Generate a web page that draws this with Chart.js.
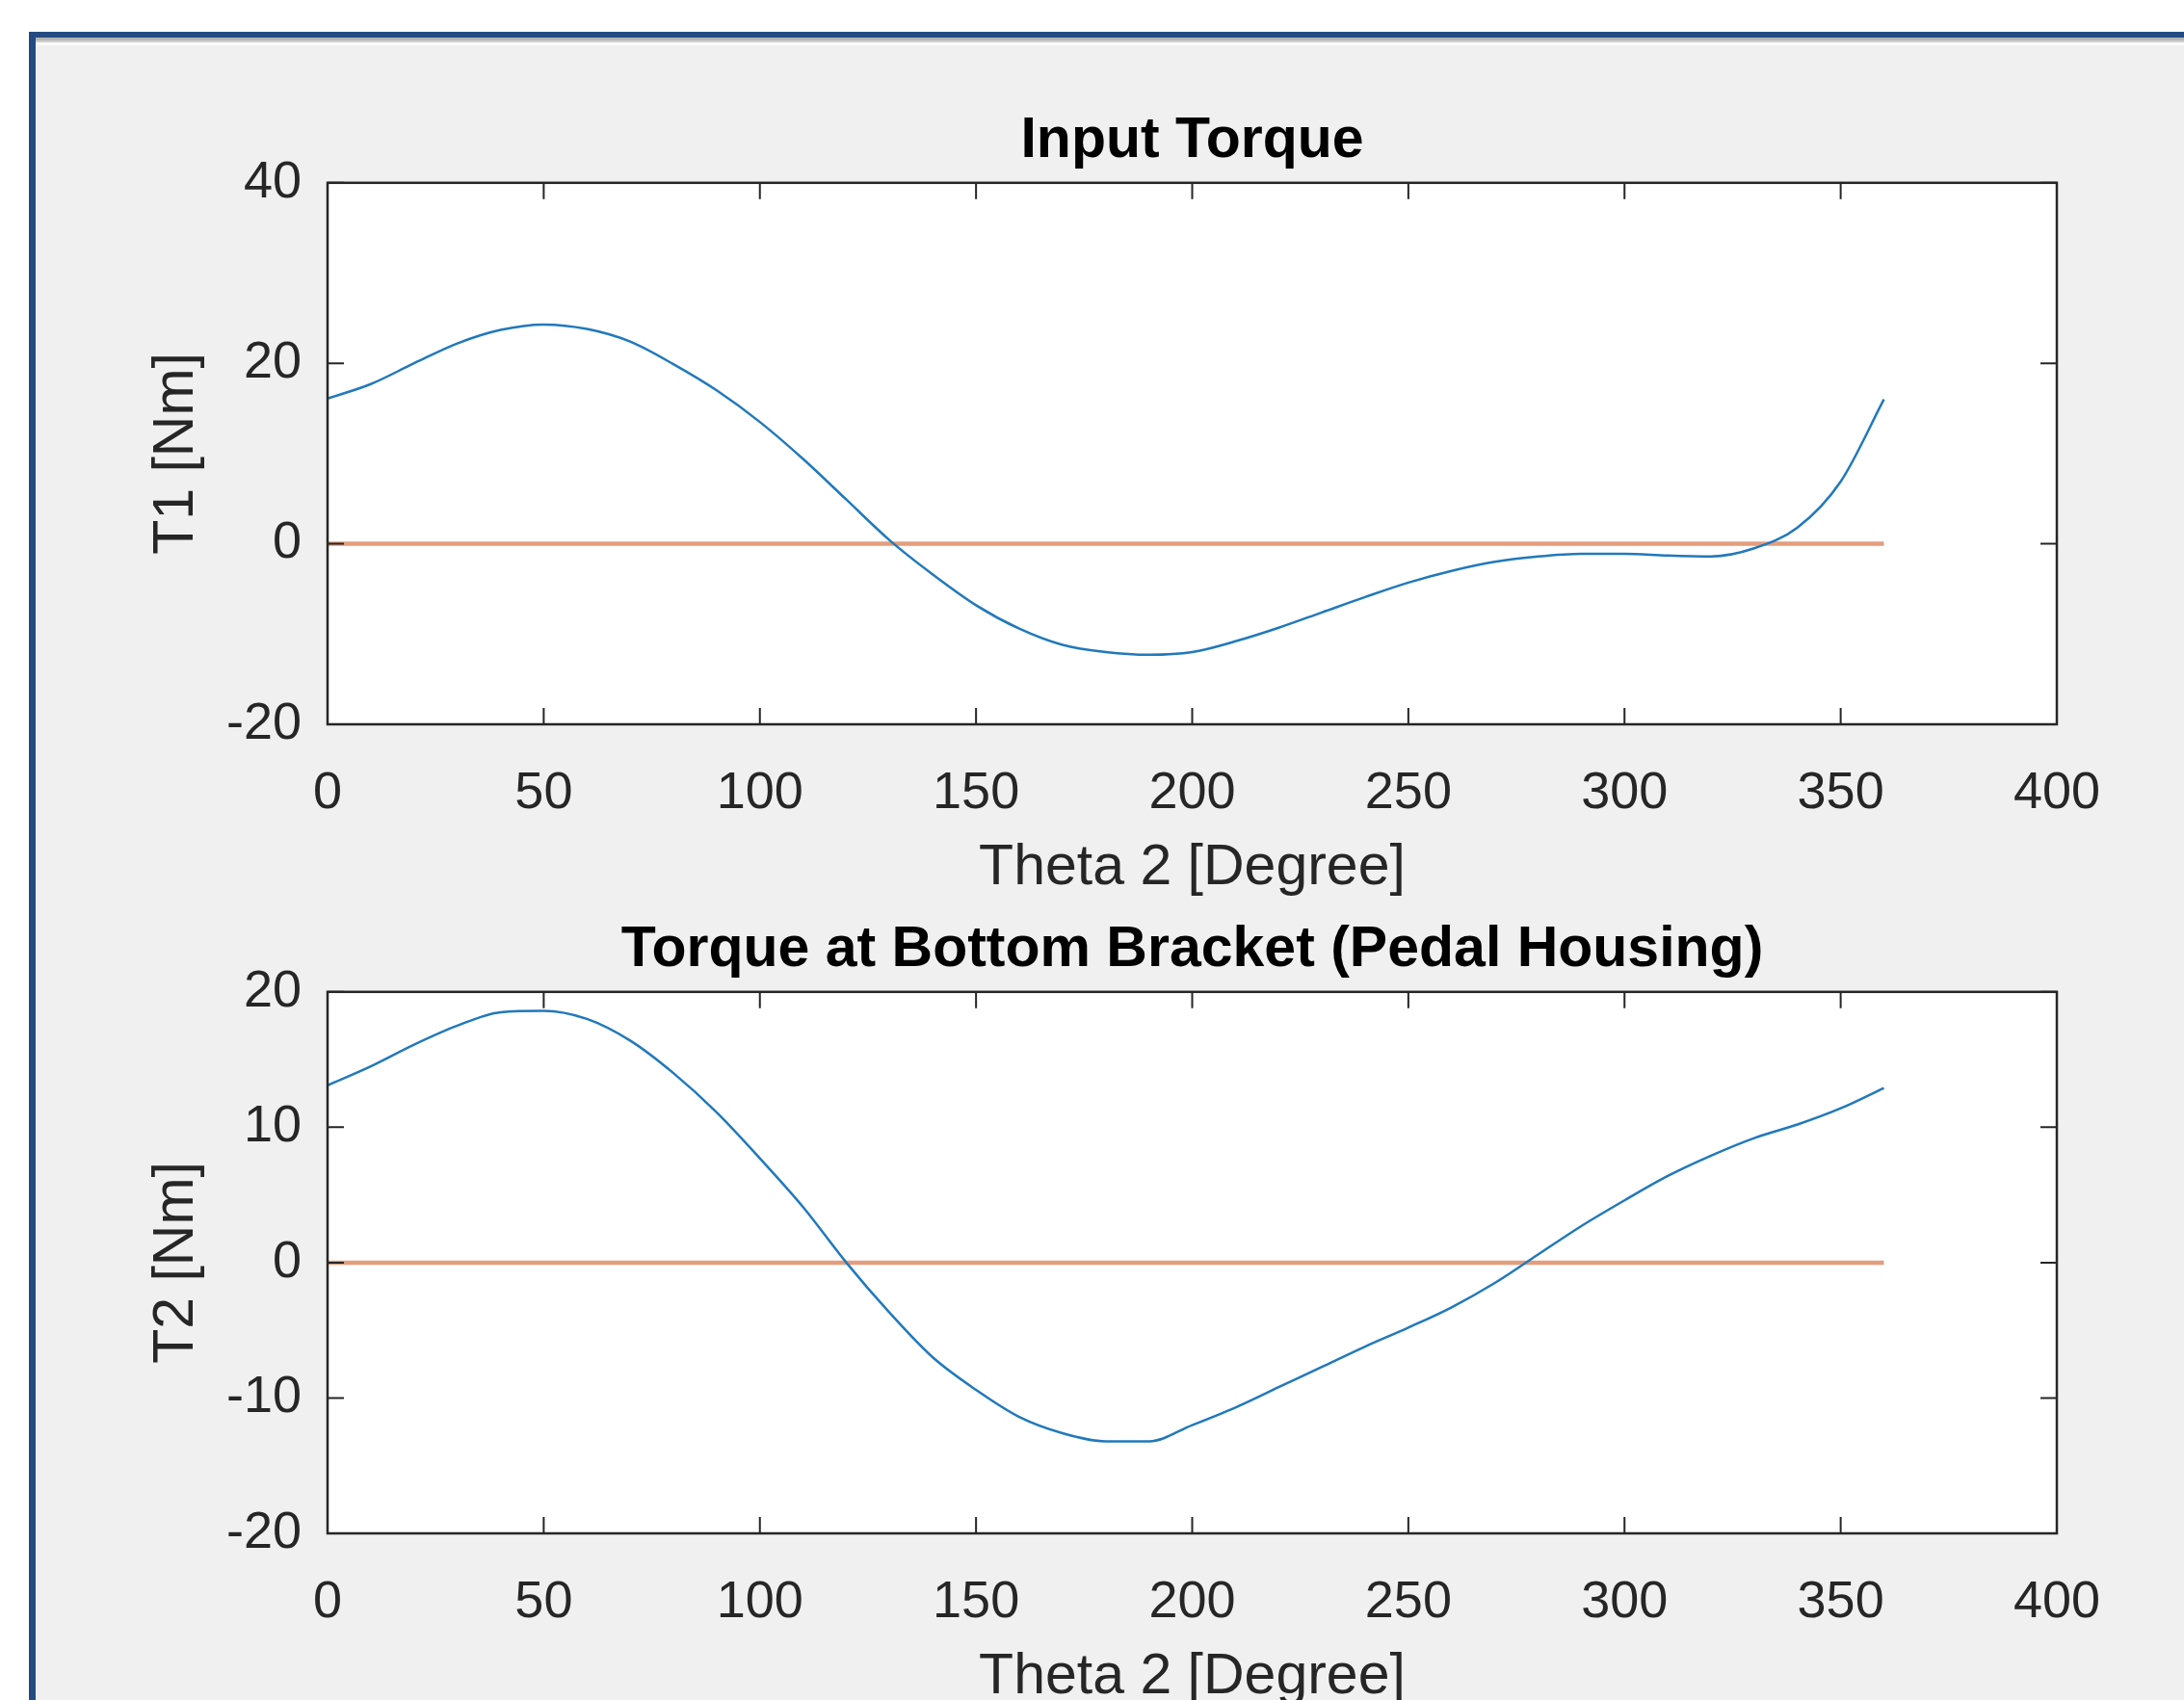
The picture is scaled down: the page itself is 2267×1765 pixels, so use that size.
<!DOCTYPE html>
<html><head><meta charset="utf-8">
<script src="https://cdn.jsdelivr.net/npm/chart.js@4.4.0/dist/chart.umd.min.js"></script>
<style>
html,body{margin:0;padding:0;width:2267px;height:1765px;overflow:hidden;background:#ffffff;}
#frame{position:absolute;left:30px;top:33px;width:2237px;height:1732px;box-sizing:border-box;border-top:6px solid #234b82;border-left:7px solid #234b82;background:#f0f0f0;}
#frame .sh{position:absolute;left:0;top:0;right:0;height:8px;background:linear-gradient(#b5b5b5 0px,#b5b5b5 3px,#cfcfcf 3px,#cfcfcf 5px,#fbfbfb 5px,#fbfbfb 8px);}
.cw{position:absolute;left:0;width:2267px;height:938px;}
</style></head><body>
<div id="frame"><div class="sh"></div></div>
<div class="cw" style="top:0px"><canvas id="c1" width="2267" height="938"></canvas></div>
<div class="cw" style="top:840px"><canvas id="c2" width="2267" height="938"></canvas></div>
<script>
const theta2 = [0,10,20,30,40,50,60,70,80,90,100,110,120,130,140,150,160,170,180,190,200,210,220,230,240,250,260,270,280,290,300,310,320,330,340,350,360];
const torqueT1 = [16.1,17.7,20.0,22.2,23.7,24.3,23.8,22.4,19.9,17.0,13.5,9.4,4.9,0.4,-3.4,-6.8,-9.4,-11.2,-12.0,-12.3,-12.0,-10.8,-9.3,-7.6,-5.9,-4.3,-3.0,-2.0,-1.4,-1.1,-1.1,-1.3,-1.4,-0.5,1.8,6.9,16.0];
const torqueT2 = [13.1,14.5,16.1,17.5,18.5,18.6,18.0,16.4,14.0,11.1,7.7,4.1,0.0,-3.7,-7.0,-9.4,-11.4,-12.6,-13.2,-13.2,-12.0,-10.7,-9.2,-7.7,-6.2,-4.8,-3.3,-1.5,0.6,2.7,4.6,6.4,7.9,9.2,10.2,11.4,12.9];
const zeroLine = [0,0,0,0,0,0,0,0,0,0,0,0,0,0,0,0,0,0,0,0,0,0,0,0,0,0,0,0,0,0,0,0,0,0,0,0,0];
const xTicks = {min:0, max:400, step:50};
const yTicksT1 = {min:-20, max:40, step:20};
const yTicksT2 = {min:-20, max:20, step:10};
const titles = ['Input Torque', 'Torque at Bottom Bracket (Pedal Housing)'];
const yLabels = ['T1 [Nm]', 'T2 [Nm]'];
const xLabel = 'Theta 2 [Degree]';

const F = '"Liberation Sans", Arial, Helvetica, sans-serif';
const AX = '#262626';

const boxPlugin = {
  id: 'matlabBox',
  beforeDraw(chart) {
    const {ctx, chartArea: a} = chart;
    ctx.save();
    ctx.fillStyle = '#ffffff';
    ctx.fillRect(a.left, a.top, a.right - a.left, a.bottom - a.top);
    ctx.restore();
  },
  afterDatasetsDraw(chart) {
    const {ctx, chartArea: a, scales: {x, y}} = chart;
    const L = 17;
    ctx.save();
    ctx.strokeStyle = AX;
    ctx.lineWidth = 2;
    ctx.beginPath();
    x.ticks.forEach(t => {
      const px = x.getPixelForValue(t.value);
      ctx.moveTo(px, a.bottom); ctx.lineTo(px, a.bottom - L);
      ctx.moveTo(px, a.top); ctx.lineTo(px, a.top + L);
    });
    y.ticks.forEach(t => {
      const py = y.getPixelForValue(t.value);
      ctx.moveTo(a.left, py); ctx.lineTo(a.left + L, py);
      ctx.moveTo(a.right, py); ctx.lineTo(a.right - L, py);
    });
    ctx.stroke();
    ctx.lineWidth = 2.5;
    ctx.strokeRect(a.left, a.top, a.right - a.left, a.bottom - a.top);
    ctx.restore();
  }
};

function makeChart(id, title, yLabel, ys, yt) {
  new Chart(document.getElementById(id), {
    type: 'line',
    data: {
      datasets: [
        {data: theta2.map((v, i) => ({x: v, y: ys[i]})), borderColor: '#2179bb', borderWidth: 2.5, pointRadius: 0, cubicInterpolationMode: 'monotone', fill: false},
        {data: theta2.map((v, i) => ({x: v, y: zeroLine[i]})), borderColor: '#e49d7d', borderWidth: 4.5, pointRadius: 0, tension: 0, fill: false}
      ]
    },
    options: {
      responsive: false,
      animation: false,
      events: [],
      layout: {padding: {top: 111, left: 0, right: 132, bottom: 0}},
      plugins: {
        legend: {display: false},
        tooltip: {enabled: false},
        title: {display: true, text: title, fullSize: false, color: '#000000',
          font: {family: F, size: 59, weight: 'bold', lineHeight: 1.2},
          padding: {top: 0, bottom: 8}}
      },
      scales: {
        x: {
          type: 'linear', min: xTicks.min, max: xTicks.max,
          ticks: {stepSize: xTicks.step, padding: 40, color: AX, font: {family: F, size: 54, lineHeight: 1.2}, maxRotation: 0, autoSkip: false},
          grid: {display: false, drawTicks: false},
          border: {display: false},
          title: {display: true, text: xLabel, color: AX, font: {family: F, size: 59, lineHeight: 1.2}, padding: {top: 0, bottom: 1}},
          afterFit(s) { s.height = 186; }
        },
        y: {
          type: 'linear', min: yt.min, max: yt.max,
          ticks: {stepSize: yt.step, padding: 27, color: AX, font: {family: F, size: 54, lineHeight: 1.2}},
          grid: {display: false, drawTicks: false},
          border: {display: false},
          title: {display: true, text: yLabel, color: AX, font: {family: F, size: 59, lineHeight: 1.2}, padding: {top: 148, bottom: 0}},
          afterFit(s) { s.width = 340; }
        }
      }
    },
    plugins: [boxPlugin]
  });
}

makeChart('c1', titles[0], yLabels[0], torqueT1, yTicksT1);
makeChart('c2', titles[1], yLabels[1], torqueT2, yTicksT2);
</script>
</body></html>
